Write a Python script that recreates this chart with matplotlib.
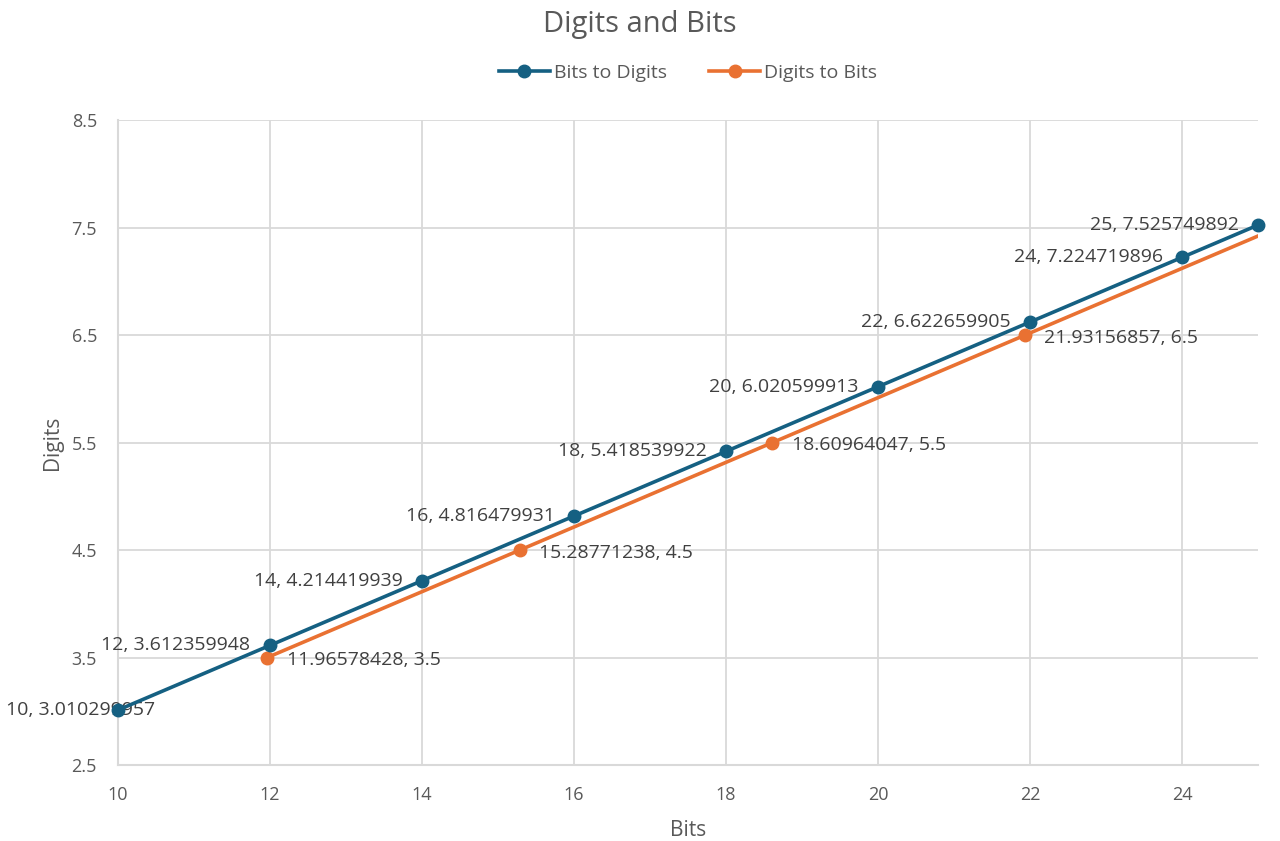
import matplotlib.pyplot as plt

# Bits to Digits series
btd_bits = [10, 12, 14, 16, 18, 20, 22, 24, 25]
btd_digits = [3.010299957, 3.612359948, 4.214419939, 4.816479931, 5.418539922,
              6.020599913, 6.622659905, 7.224719896, 7.525749892]
btd_labels = ["10, 3.010299957", "12, 3.612359948", "14, 4.214419939", "16, 4.816479931",
              "18, 5.418539922", "20, 6.020599913", "22, 6.622659905", "24, 7.224719896",
              "25, 7.525749892"]

# Digits to Bits series (last point falls past the x-axis limit)
dtb_bits = [11.96578428, 15.28771238, 18.60964047, 21.93156857, 25.25349666]
dtb_digits = [3.5, 4.5, 5.5, 6.5, 7.5]
dtb_labels = ["11.96578428, 3.5", "15.28771238, 4.5", "18.60964047, 5.5", "21.93156857, 6.5", None]

x_ticks = [10, 12, 14, 16, 18, 20, 22, 24]
y_ticks = [2.5, 3.5, 4.5, 5.5, 6.5, 7.5, 8.5]

BLUE = "#156082"
ORANGE = "#E97132"
TEXT = "#595959"
LABEL = "#404040"
GRID = "#D9D9D9"

plt.rcParams['font.family'] = ['Open Sans', 'DejaVu Sans']

fig = plt.figure(figsize=(12.8, 8.41), dpi=100)
ax = fig.add_axes([0.092, 0.0904, 0.891, 0.7666])

# blue points sit on the axis edges, so keep their markers whole
ax.plot(btd_bits, btd_digits, color=BLUE, lw=2.6, marker='o', ms=9, label="Bits to Digits",
        zorder=4, clip_on=False)
ax.plot(dtb_bits, dtb_digits, color=ORANGE, lw=2.6, marker='o', ms=9, label="Digits to Bits", zorder=3)

# data labels: blue to the left, orange to the right
for i, (x, y, s) in enumerate(zip(btd_bits, btd_digits, btd_labels)):
    if i == 0:
        # sits under the first marker, as in the original
        ax.annotate(s, (x, y), xytext=(-27, 0), textcoords='offset points',
                    ha='center', va='center', fontsize=14, color=LABEL, zorder=3.5)
    else:
        ax.annotate(s, (x, y), xytext=(-14, 0), textcoords='offset points',
                    ha='right', va='center', fontsize=14, color=LABEL, zorder=5)
for x, y, s in zip(dtb_bits, dtb_digits, dtb_labels):
    if s:
        ax.annotate(s, (x, y), xytext=(14, -2), textcoords='offset points',
                    ha='left', va='center', fontsize=14, color=LABEL, zorder=5)

ax.set_xlim(10, 25)
ax.set_ylim(2.5, 8.5)
ax.set_xticks(x_ticks)
ax.set_yticks(y_ticks)
ax.grid(True, color=GRID, lw=1.3)
ax.set_axisbelow(True)
for side in ['top', 'right']:
    ax.spines[side].set_visible(False)
for side in ['left', 'bottom']:
    ax.spines[side].set_color(GRID)
    ax.spines[side].set_linewidth(1.5)
ax.tick_params(length=0, labelsize=13, colors=TEXT)
ax.tick_params(axis='x', pad=15)
ax.tick_params(axis='y', pad=15)

ax.set_xlabel("Bits", fontsize=15, color=TEXT, labelpad=12)
ax.set_ylabel("Digits", fontsize=15, color=TEXT, labelpad=6)

fig.suptitle("Digits and Bits", x=0.5, y=0.988, fontsize=21, color=TEXT)
ax.legend(loc='lower center', bbox_to_anchor=(0.5, 1.032), ncol=2, frameon=False,
          fontsize=14, labelcolor=TEXT, handlelength=2.6, columnspacing=2.2, handletextpad=0.2)

fig.savefig("out.png", dpi=100)
